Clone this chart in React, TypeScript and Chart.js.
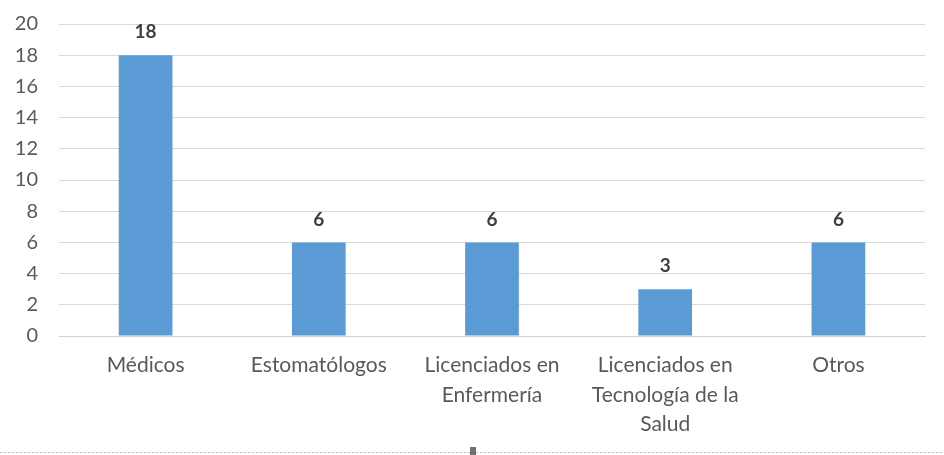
import React, { useEffect, useRef } from "react";
import { Chart, registerables } from "chart.js";

Chart.register(...registerables);

const categories: string[][] = [
  ["Médicos"],
  ["Estomatólogos"],
  ["Licenciados en", "Enfermería"],
  ["Licenciados en", "Tecnología de la", "Salud"],
  ["Otros"],
];
const values: number[] = [18, 6, 6, 3, 6];
const yMin = 0;
const yMax = 20;
const yStep = 2;

const FONT = "Lato, Carlito, 'Open Sans', sans-serif";

const labelPlugin = {
  id: "valueLabels",
  afterDatasetsDraw(chart: any) {
    const ctx = chart.ctx;
    const meta = chart.getDatasetMeta(0);
    ctx.save();
    ctx.font = `bold 19px ${FONT}`;
    ctx.fillStyle = "#404040";
    ctx.textAlign = "center";
    ctx.textBaseline = "middle";
    meta.data.forEach((bar: any, i: number) => {
      ctx.fillText(String(values[i]), bar.x, bar.y - 23);
    });
    ctx.restore();
  },
  afterDraw(chart: any) {
    const ctx = chart.ctx;
    ctx.save();
    ctx.strokeStyle = "#bfbfbf";
    ctx.lineWidth = 1;
    ctx.setLineDash([2, 2]);
    ctx.beginPath();
    ctx.moveTo(0, 452.5);
    ctx.lineTo(chart.width, 452.5);
    ctx.stroke();
    ctx.setLineDash([]);
    ctx.fillStyle = "#707070";
    ctx.fillRect(470, 447, 6, 8);
    ctx.restore();
  },
};

export default function App() {
  const ref = useRef<HTMLCanvasElement | null>(null);
  useEffect(() => {
    if (!ref.current) return;
    const chart = new Chart(ref.current, {
      type: "bar",
      data: {
        labels: categories,
        datasets: [
          {
            data: values,
            backgroundColor: "#5b9bd5",
            borderWidth: 0,
            barPercentage: 0.31,
            categoryPercentage: 1,
          },
        ],
      },
      options: {
        responsive: false,
        animation: false,
        maintainAspectRatio: false,
        layout: { padding: { left: 0, right: 19, top: 24, bottom: 0 } },
        plugins: {
          legend: { display: false },
          tooltip: { enabled: false },
        },
        scales: {
          x: {
            grid: { display: false, drawTicks: false },
            border: { display: true, color: "#d0d0d0", width: 1 },
            ticks: {
              color: "#595959",
              font: { family: FONT, size: 21, lineHeight: 1.4 },
              padding: 15,
              maxRotation: 0,
              autoSkip: false,
            },
            afterFit: (scale: any) => {
              scale.height = 119;
            },
          },
          y: {
            min: yMin,
            max: yMax,
            ticks: {
              stepSize: yStep,
              color: "#595959",
              font: { family: FONT, size: 20 },
              padding: 21,
            },
            grid: { color: "#d9d9d9", drawTicks: false, lineWidth: 1 },
            border: { display: false },
            afterFit: (scale: any) => {
              scale.width = 59;
              scale.paddingTop = 0;
              scale.paddingBottom = 0;
            },
          },
        },
      },
      plugins: [labelPlugin],
    });
    return () => chart.destroy();
  }, []);
  return (
    <div style={{ position: "fixed", left: 0, top: 0, width: 944, height: 455, background: "#fff" }}>
      <canvas ref={ref} width={944} height={455} style={{ width: 944, height: 455, display: "block" }} />
    </div>
  );
}
